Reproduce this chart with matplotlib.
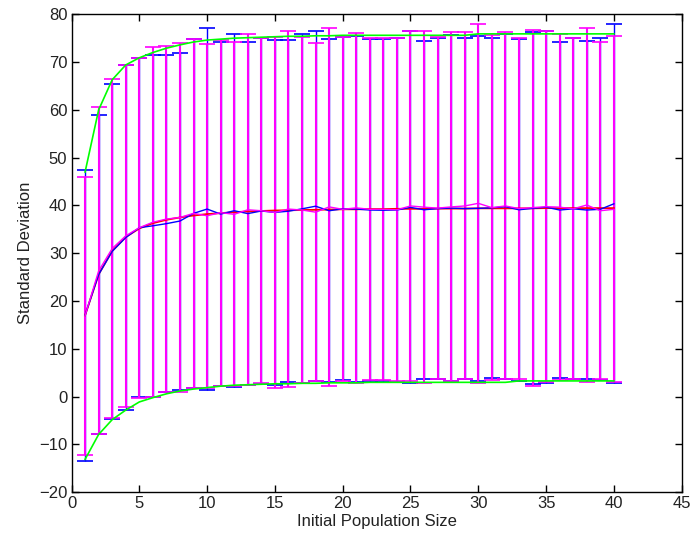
import numpy as np
import matplotlib
matplotlib.use("Agg")
import matplotlib.pyplot as plt

plt.rcParams['font.family'] = ['Liberation Sans Narrow', 'Liberation Sans', 'DejaVu Sans']

pop_size = np.arange(1, 41)

# observed run: mean and standard deviation per population size
obs_mean = [17.05, 25.55, 30.4, 33.3, 35.35, 35.75, 36.2, 36.75, 38.35, 39.25,
            38.2, 38.9, 38.3, 38.85, 38.55, 38.8, 39.3, 39.85, 38.9, 39.3,
            39.25, 39.05, 39.0, 39.05, 39.6, 39.1, 39.35, 39.45, 39.35, 39.4,
            39.5, 39.75, 39.1, 39.4, 39.65, 39.05, 39.3, 39.05, 39.2, 40.35]
obs_std = [30.45, 33.45, 35.0, 36.0, 35.45, 35.75, 35.3, 35.25, 36.45, 37.85,
           35.9, 36.9, 35.8, 36.15, 36.05, 35.8, 36.5, 36.65, 35.9, 35.9,
           36.25, 35.75, 35.8, 35.95, 36.8, 35.4, 35.65, 36.25, 35.65, 36.1,
           35.5, 36.05, 35.8, 36.8, 36.75, 35.05, 35.7, 35.45, 35.8, 37.55]

# simulated run
sim_mean = [16.95, 26.3, 31.0, 33.65, 35.35, 36.5, 37.15, 37.5, 38.35, 37.85,
            38.5, 38.15, 39.1, 38.9, 38.55, 39.25, 39.05, 38.6, 39.7, 39.2,
            39.5, 39.2, 39.2, 39.1, 39.9, 39.65, 39.45, 39.7, 39.9, 40.45,
            39.55, 39.9, 39.35, 39.55, 39.75, 39.65, 39.3, 40.1, 38.9, 39.2]
sim_std = [29.05, 34.2, 35.5, 35.75, 35.55, 36.6, 36.25, 36.5, 36.45, 35.95,
           36.2, 35.95, 36.7, 36.1, 36.65, 37.25, 36.15, 35.3, 37.4, 36.0,
           36.6, 35.8, 35.8, 35.9, 36.6, 36.85, 35.85, 36.5, 36.3, 37.55,
           36.15, 36.3, 35.65, 37.25, 36.75, 36.15, 35.7, 37.0, 35.2, 36.2]

# fitted curves: mean and mean +/- std
fit_mean = [17.0, 25.6, 30.5, 33.4, 35.2, 36.3, 37.0, 37.5, 37.9, 38.2,
            38.4, 38.6, 38.75, 38.85, 38.95, 39.0, 39.05, 39.1, 39.15, 39.2,
            39.2, 39.25, 39.25, 39.3, 39.3, 39.3, 39.35, 39.35, 39.35, 39.4,
            39.4, 39.4, 39.4, 39.4, 39.45, 39.45, 39.45, 39.45, 39.45, 39.45]
fit_upper = [47.0, 60.0, 66.3, 69.4, 70.9, 72.0, 72.9, 73.6, 74.2, 74.6,
             74.8, 75.0, 75.1, 75.2, 75.3, 75.4, 75.4, 75.5, 75.5, 75.6,
             75.6, 75.6, 75.6, 75.6, 75.6, 75.6, 75.6, 75.6, 75.6, 75.9,
             75.9, 75.9, 75.9, 75.9, 75.9, 75.9, 75.9, 75.9, 75.9, 75.9]
fit_lower = [-13.1, -7.9, -4.8, -2.8, -1.1, -0.2, 0.6, 1.2, 1.6, 1.9,
             2.2, 2.4, 2.5, 2.6, 2.7, 2.7, 2.8, 2.8, 2.9, 2.9,
             2.9, 3.0, 3.0, 3.0, 3.0, 3.0, 3.0, 3.0, 3.0, 3.0,
             3.0, 3.0, 3.3, 3.3, 3.3, 3.3, 3.3, 3.3, 3.3, 3.3]

fig = plt.figure(figsize=(6.91, 5.49), dpi=100)
ax = fig.add_axes([0.1035, 0.1033, 0.883, 0.8707])

ax.errorbar(pop_size, obs_mean, yerr=obs_std, color='#0000ff', lw=1.0,
            elinewidth=1.0, capsize=6, capthick=1.2)
ax.errorbar(pop_size, sim_mean, yerr=sim_std, color='#ff00ff', lw=1.0,
            elinewidth=1.5, capsize=6, capthick=1.2)
ax.plot(pop_size, fit_mean, color='#ff0000', lw=1.3)
ax.plot(pop_size, fit_upper, color='#00ff00', lw=1.2)
ax.plot(pop_size, fit_lower, color='#00ff00', lw=1.2)

ax.set_xlim(0, 45)
ax.set_ylim(-20, 80)
ax.set_xticks(np.arange(0, 46, 5))
ax.set_yticks(np.arange(-20, 81, 10))
ax.tick_params(direction='in', top=True, right=True, length=5, width=1,
               labelsize=12, pad=3, labelcolor='#222222')
for s in ax.spines.values():
    s.set_linewidth(1.0)
ax.set_xlabel('Initial Population Size', fontsize=12, labelpad=2, color='#222222')
ax.set_ylabel('Standard Deviation', fontsize=12, labelpad=4, color='#222222')

fig.savefig('out.png', dpi=100)
